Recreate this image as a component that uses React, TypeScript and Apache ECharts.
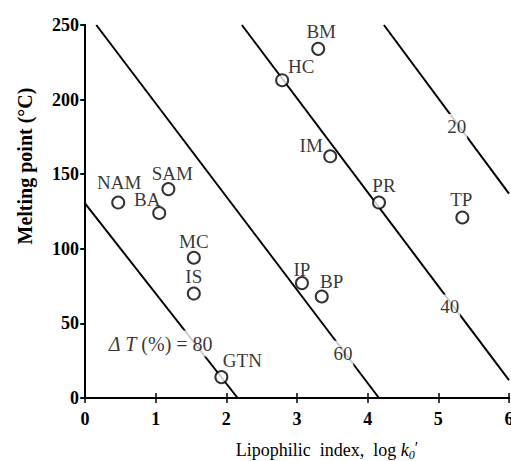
import React, { useEffect, useRef } from 'react';
import * as echarts from 'echarts';

const drugNames = ['NAM', 'BA', 'SAM', 'MC', 'IS', 'GTN', 'HC', 'BM', 'IM', 'PR', 'TP', 'IP', 'BP'];
const logK = [0.47, 1.05, 1.18, 1.54, 1.54, 1.93, 2.79, 3.3, 3.47, 4.16, 5.34, 3.07, 3.35];
const meltingPoint = [131, 124, 140, 94, 70, 14, 213, 234, 162, 131, 121, 77, 68];
// label placement (px offset of label centre from marker)
const labelOffsets = [[1, -20], [-12, -13], [4, -16], [0, -16], [0, -17], [21, -17], [19, -14], [3, -17], [-19, -11], [5, -17], [-1, -18], [0, -14], [10, -15]];

const isoValues = ['80', '60', '40', '20'];
const isoStartX = [0, 0.16, 2.22, 4.23];
const isoStartY = [130.5, 250, 250, 250];
const isoEndX = [2.16, 4.16, 6, 6];
const isoEndY = [0, 0, 12, 137];
const isoLabelX = [1.82, 3.65, 5.16, 5.26];
const isoLabelY = [36.5, 30, 61, 182];

const xMin = 0, xMax = 6, xStep = 1;
const yMin = 0, yMax = 250, yStep = 50;

const FONT = '"Liberation Serif", "DejaVu Serif", serif';

export default function App() {
  const ref = useRef<HTMLDivElement>(null);
  useEffect(() => {
    if (!ref.current) return;
    const chart = echarts.init(ref.current, undefined, { renderer: 'svg' });
    const lineSeries = isoValues.map((v, i) => ({
      type: 'line',
      name: 'iso' + v,
      data: [[isoStartX[i], isoStartY[i]], [isoEndX[i], isoEndY[i]]],
      symbol: 'none',
      lineStyle: { color: '#000', width: 2 },
      z: 2,
      silent: true,
    }));
    const isoLabelSeries = {
      type: 'scatter',
      symbolSize: 0,
      z: 4,
      silent: true,
      data: isoValues.map((v, i) => ({
        value: [isoLabelX[i], isoLabelY[i]],
        label: i === 0
          ? { align: 'right', fontSize: 20, formatter: '{i|\u0394 T} (%) = ' + v }
          : { formatter: v },
      })),
      label: {
        show: true,
        position: 'inside',
        color: '#000',
        fontFamily: FONT,
        fontSize: 19,
        backgroundColor: '#fff',
        padding: [3, 1, 3, 1],
        rich: {
          i: { fontStyle: 'italic', fontFamily: FONT, fontSize: 20, color: '#000' },
        },
      },
    };
    const drugSeries = {
      type: 'scatter',
      z: 5,
      symbol: 'circle',
      symbolSize: 12,
      itemStyle: { color: '#fff', borderColor: '#000', borderWidth: 2 },
      data: drugNames.map((n, i) => ({
        name: n,
        value: [logK[i], meltingPoint[i]],
        label: { offset: labelOffsets[i] },
      })),
      label: {
        show: true,
        position: 'inside',
        formatter: '{b}',
        color: '#000',
        fontFamily: FONT,
        fontSize: 19,
      },
    };
    const axisCommonX = {
      type: 'value',
      min: xMin,
      max: xMax,
      interval: xStep,
      splitLine: { show: false },
      axisLine: { show: true, lineStyle: { color: '#000', width: 2 } },
      axisTick: { show: true, inside: true, length: 5, lineStyle: { color: '#000', width: 1.5 } },
    };
    const axisCommonY = {
      type: 'value',
      min: yMin,
      max: yMax,
      interval: yStep,
      splitLine: { show: false },
      axisLine: { show: true, lineStyle: { color: '#000', width: 2 } },
      axisTick: { show: true, inside: true, length: 5, lineStyle: { color: '#000', width: 1.5 } },
    };
    chart.setOption({
      animation: false,
      backgroundColor: '#fff',
      grid: { left: 85, right: 2, top: 25, bottom: 63, containLabel: false, outerBoundsMode: 'none' },
      xAxis: [
        {
          ...axisCommonX,
          position: 'bottom',
          axisLabel: { color: '#000', fontFamily: FONT, fontSize: 18, fontWeight: 'bold', margin: 12, hideOverlap: false },
        },
        { ...axisCommonX, position: 'top', axisLabel: { show: false } },
      ],
      yAxis: [
        {
          ...axisCommonY,
          position: 'left',
          axisTick: { show: true, inside: false, length: 4, lineStyle: { color: '#000', width: 1.5 } },
          axisLabel: { color: '#000', fontFamily: FONT, fontSize: 18, fontWeight: 'bold', margin: 6 },
        },
        { ...axisCommonY, position: 'right', axisLabel: { show: false } },
      ],
      graphic: [
        {
          type: 'text',
          x: 25,
          y: 166,
          rotation: Math.PI / 2,
          style: {
            text: 'Melting point (\u00b0C)',
            font: 'bold 20px ' + FONT,
            fill: '#000',
            textAlign: 'center',
            textVerticalAlign: 'middle',
            align: 'center',
            verticalAlign: 'middle',
          },
        },
        {
          type: 'text',
          x: 327,
          y: 450,
          style: {
            text: 'Lipophilic  index,  log {i|k}{s|0}{p|\u2032}',
            font: '18px ' + FONT,
            fill: '#000',
            textAlign: 'center',
            textVerticalAlign: 'middle',
            align: 'center',
            verticalAlign: 'middle',
            rich: {
              i: { fontStyle: 'italic', fontSize: 18, fontFamily: FONT, fill: '#000' },
              s: { fontStyle: 'italic', fontSize: 12, fontFamily: FONT, fill: '#000', padding: [10, 0, 0, 0] },
              p: { fontSize: 16, fontFamily: FONT, fill: '#000', padding: [0, 0, 6, 0] },
            },
          },
        },
      ],
      series: [...lineSeries, isoLabelSeries, drugSeries],
    } as any);
    return () => chart.dispose();
  }, []);
  return (
    <div
      ref={ref}
      style={{ position: 'absolute', left: 0, top: 0, width: 511, height: 461, background: '#fff' }}
    />
  );
}
